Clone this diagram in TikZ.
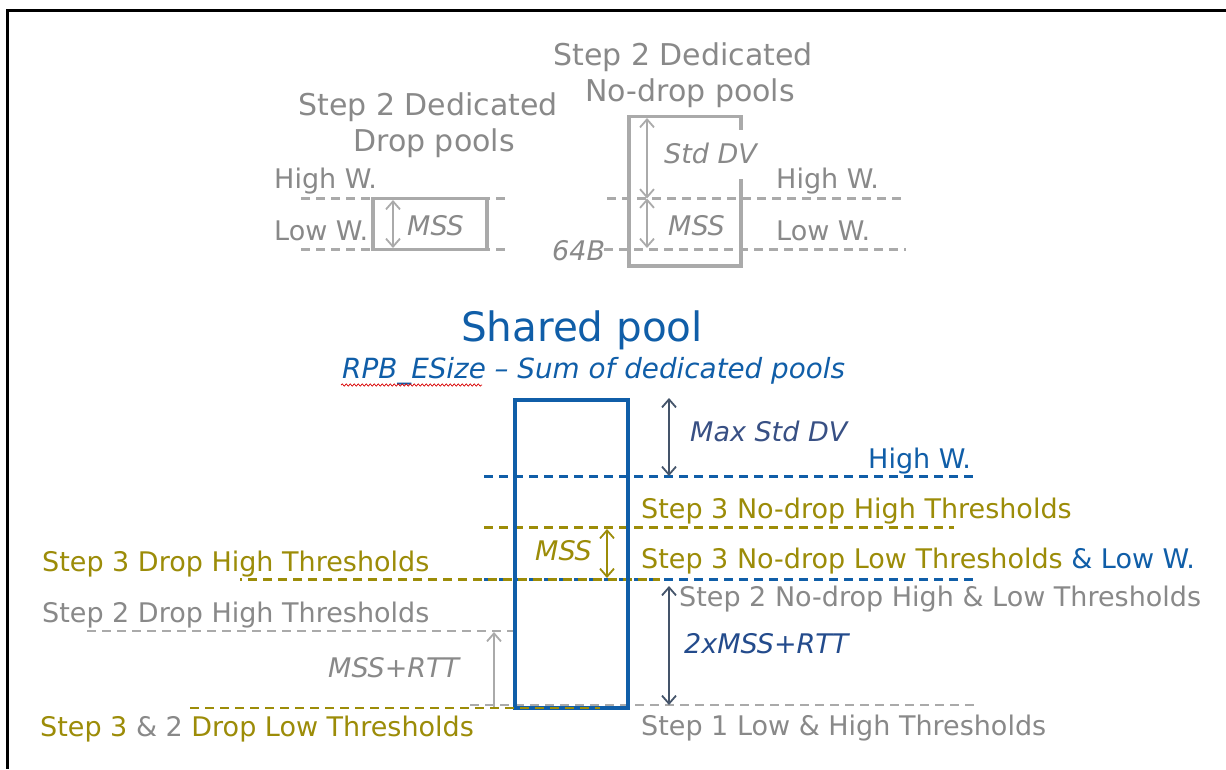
\documentclass[tikz,border=0pt]{standalone}
\usepackage{fontspec}
\setmainfont{DejaVu Sans}
\usetikzlibrary{arrows.meta,decorations.pathmorphing}
\definecolor{txtgray}{RGB}{137,137,137}
\definecolor{lingray}{RGB}{170,170,170}
\definecolor{myolive}{RGB}{156,140,8}
\definecolor{myblue}{RGB}{16,94,168}
\definecolor{slate}{RGB}{68,84,106}
\definecolor{dvblue}{RGB}{56,80,132}
\definecolor{twoblue}{RGB}{35,75,140}
\begin{document}
\begin{tikzpicture}[x=1pt,y=-1pt,
  lbl/.style={inner sep=0pt, anchor=base west, font=\fontsize{27}{32}\selectfont},
  itl/.style={inner sep=0pt, anchor=base west, font=\fontsize{27}{32}\selectfont\itshape},
  ttl/.style={inner sep=0pt, anchor=base, font=\fontsize{30}{36}\selectfont, text=txtgray},
  dline/.style={line width=2.6pt, dash pattern=on 9pt off 6pt},
  dbl/.style={line width=1.8pt, {Straight Barb[length=8pt,width=14pt]}-{Straight Barb[length=8pt,width=14pt]}},
  sgl/.style={line width=1.8pt, -{Straight Barb[length=8pt,width=14pt]}},
]
\useasboundingbox (0,0) rectangle (1226,769);
\fill[white] (0,0) rectangle (1226,769);
% frame
\draw[line width=3pt] (1226,10) -- (7,10) -- (7,769);

% ---------- dedicated drop pool ----------
\node[ttl] (tdl1) at (428,115) {Step 2 Dedicated};
\node[ttl] (tdl2) at (434,151.7) {Drop pools};
\draw[lingray, dline] (301,198.5) -- (506,198.5);
\draw[lingray, dline] (301,249.5) -- (506,249.5);
\draw[lingray, line width=3.6pt] (373,198.5) rectangle (487,249.5);
\coordinate (da1) at (393,200);
\coordinate (da2) at (393,248);
\draw[dbl, lingray] (da1) -- (da2);
\node[lbl, text=txtgray] (hwl) at (274,188.3) {High W.};
\node[lbl, text=txtgray] (lwl) at (274,240.7) {Low W.};
\node[itl, text=txtgray] (mssl) at (407,235) {MSS};

% ---------- dedicated no-drop pool ----------
\node[ttl] (tdr1) at (683,65) {Step 2 Dedicated};
\node[ttl] (tdr2) at (690,101.7) {No-drop pools};
\draw[lingray, dline] (607,198.5) -- (906,198.5);
\draw[lingray, dline] (604,249.5) -- (906,249.5);
\draw[lingray, line width=3.6pt] (741,179) -- (741,266) -- (629,266) -- (629,116.5) -- (741,116.5) -- (741,130);
\coordinate (ra1) at (647,118);
\coordinate (ra2) at (647,198.5);
\coordinate (ra3) at (647,248);
\draw[dbl, lingray] (ra1) -- (ra2);
\draw[dbl, lingray] (ra2) -- (ra3);
\node[itl, text=txtgray] (stddv) at (664,163.3) {Std DV};
\node[itl, text=txtgray] (mssr) at (668,235) {MSS};
\node[lbl, text=txtgray] (hwr) at (776,188.3) {High W.};
\node[lbl, text=txtgray] (lwr) at (776,240.7) {Low W.};
\node[itl, text=txtgray] (b64) at (552,260) {64B};

% ---------- shared pool ----------
\node[inner sep=0pt, anchor=base, font=\fontsize{40.5}{48}\selectfont, text=myblue] (sp) at (582,341.7) {Shared pool};
\node[inner sep=0pt, anchor=base west, font=\fontsize{27.8}{33}\selectfont\itshape, text=myblue] (rpb) at (342,378) {RPB\_ESize -- Sum of dedicated pools};
\draw[red!85!black, line width=0.7pt, decorate, decoration={snake, amplitude=1.1pt, segment length=4pt}] (341,385) -- (482,385);

% dashed levels
\draw[myblue, dline] (484,476.7) -- (975,476.7);
\draw[myolive, dline] (484,527.7) -- (954,527.7);
\draw[myblue, dline] (484,579.5) -- (975,579.5);
\draw[myolive, dline, dash phase=7pt] (240,579.5) -- (660,579.5);
\draw[lingray, dline] (87,631) -- (515,631);
\draw[lingray, dline] (470,705) -- (975,705);

% box
\draw[myblue, line width=3.6pt] (515,400) rectangle (628,708);
\draw[myolive, dline] (190,708) -- (600,708);

% arrows
\coordinate (m1) at (669,398);
\coordinate (m2) at (669,476);
\draw[dbl, slate] (m1) -- (m2);
\coordinate (o1) at (607,529);
\coordinate (o2) at (607,578);
\draw[dbl, myolive] (o1) -- (o2);
\coordinate (t1) at (669,586);
\coordinate (t2) at (669,705);
\draw[dbl, slate] (t1) -- (t2);
\coordinate (g1) at (494,707);
\coordinate (g2) at (494,632);
\draw[sgl, lingray] (g1) -- (g2);

% labels
\node[itl, text=dvblue] (maxdv) at (690,441.7) {Max Std DV};
\node[lbl, text=myblue] (hws) at (868,468) {High W.};
\node[lbl, text=myolive] (s3ndh) at (641,518.3) {Step 3 No-drop High Thresholds};
\node[lbl, text=myolive] (s3ndl) at (641,568.3) {Step 3 No-drop Low Thresholds {\color{myblue}\& Low W.}};
\node[itl, text=myolive] (msso) at (535,560) {MSS};
\node[lbl, text=myolive] (s3dh) at (42,571.7) {Step 3 Drop High Thresholds};
\node[lbl, text=txtgray] (s2dh) at (42,622.7) {Step 2 Drop High Thresholds};
\node[lbl, text=txtgray] (s2nd) at (679,606.7) {Step 2 No-drop High \& Low Thresholds};
\node[itl, text=twoblue] (twomss) at (684,653) {2xMSS+RTT};
\node[itl, text=txtgray] (mssrtt) at (328,677.7) {MSS+RTT};
\node[lbl, text=myolive] (s32) at (40,736) {Step 3 {\color{txtgray}\& 2} Drop Low Thresholds};
\node[lbl, text=txtgray] (s1) at (641,735) {Step 1 Low \& High Thresholds};
\end{tikzpicture}
\end{document}
